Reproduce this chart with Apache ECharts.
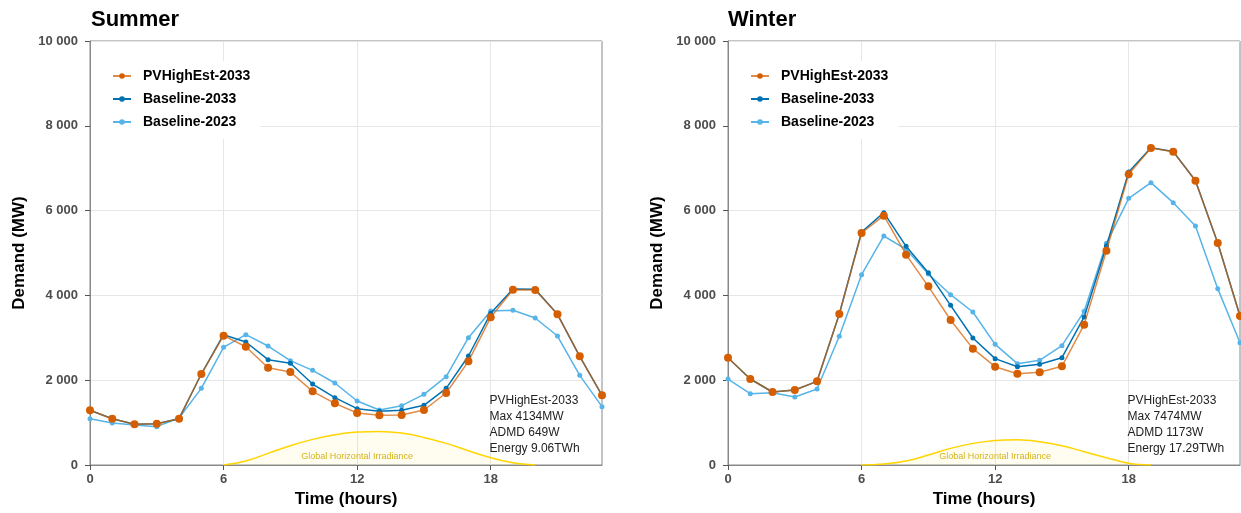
<!DOCTYPE html>
<html>
<head>
<meta charset="utf-8">
<script src="https://cdn.jsdelivr.net/npm/echarts@6/dist/echarts.min.js"></script>
<style>
  html, body { margin: 0; padding: 0; background: #fff; }
  #main { width: 1241px; height: 513px; }
</style>
</head>
<body>
<div id="main"></div>
<script>
// hours of the day
var hours = [0, 1, 2, 3, 4, 5, 6, 7, 8, 9, 10, 11, 12, 13, 14, 15, 16, 17, 18, 19, 20, 21, 22, 23];
var xTicks = [0, 6, 12, 18];
var yTicks = [0, 2000, 4000, 6000, 8000, 10000];

// summer demand (MW)
var summerPV = [1290, 1092, 960, 975, 1092, 2146, 3050, 2790, 2295, 2193, 1737, 1454, 1226, 1171, 1179, 1297, 1698, 2445, 3483, 4134, 4125, 3553, 2563, 1643];
var summerB33 = [1290, 1092, 960, 975, 1092, 2146, 3073, 2901, 2484, 2398, 1910, 1588, 1329, 1266, 1289, 1407, 1808, 2571, 3577, 4150, 4143, 3553, 2563, 1643];
var summerB23 = [1092, 990, 943, 904, 1108, 1808, 2775, 3073, 2806, 2461, 2233, 1934, 1509, 1297, 1400, 1667, 2083, 3003, 3632, 3648, 3467, 3042, 2115, 1376];
var summerGHI = [null, null, null, null, null, null, 0, 94, 275, 455, 604, 714, 776, 792, 753, 651, 510, 337, 173, 55, 0, null, null, null];

// winter demand (MW)
var winterPV = [2531, 2028, 1722, 1769, 1973, 3561, 5472, 5880, 4961, 4214, 3420, 2744, 2319, 2154, 2186, 2327, 3310, 5055, 6856, 7474, 7390, 6705, 5236, 3514];
var winterB33 = [2531, 2028, 1722, 1769, 1973, 3561, 5495, 5951, 5157, 4536, 3766, 2995, 2508, 2319, 2374, 2531, 3491, 5165, 6910, 7480, 7395, 6705, 5236, 3514];
var winterB23 = [2028, 1682, 1706, 1604, 1792, 3035, 4489, 5401, 5086, 4505, 4017, 3608, 2846, 2390, 2469, 2814, 3624, 5228, 6290, 6659, 6187, 5637, 4159, 2885];
var winterGHI = [null, null, null, null, null, null, 0, 24, 94, 235, 392, 510, 580, 596, 549, 455, 314, 173, 39, 0, null, null, null, null];

var summerNote = ['PVHighEst-2033', 'Max 4134MW', 'ADMD 649W', 'Energy 9.06TWh'];
var winterNote = ['PVHighEst-2033', 'Max 7474MW', 'ADMD 1173W', 'Energy 17.29TWh'];

var FONT = 'Liberation Sans, Arial, sans-serif';
var C_PV = '#D55E00', C_B33 = '#0072B2', C_B23 = '#56B4E9';
var GRIDC = '#e6e6e6';

function pairs(arr) {
    return hours.map(function (h, i) { return [h, arr[i]]; });
}
// 10 000 style
function fmt(v) {
    return String(v).replace(/\B(?=(\d{3})+(?!\d))/g, ' ');
}

function xAxisFor(idx) {
    return {
        gridIndex: idx, type: 'value', min: 0, max: 23, interval: 3,
        name: 'Time (hours)', nameLocation: 'middle', nameGap: 24,
        nameTextStyle: { fontFamily: FONT, fontSize: 17, fontWeight: 'bold', color: '#000' },
        axisLine: { show: true, onZero: false, lineStyle: { color: '#888', width: 1 } },
        axisTick: { show: true, length: 5, customValues: xTicks, lineStyle: { color: '#555' } },
        axisLabel: {
            customValues: xTicks, margin: 8,
            fontFamily: FONT, fontSize: 13, fontWeight: 'bold', color: '#4d4d4d'
        },
        splitLine: { show: true, lineStyle: { color: GRIDC, width: 1 } }
    };
}
function yAxisFor(idx) {
    return {
        gridIndex: idx, type: 'value', min: 0, max: 10000, interval: 1000,
        name: 'Demand (MW)', nameLocation: 'middle', nameGap: 62,
        nameTextStyle: { fontFamily: FONT, fontSize: 17, fontWeight: 'bold', color: '#000' },
        axisLine: { show: true, lineStyle: { color: '#888', width: 1 } },
        axisTick: { show: true, length: 5, customValues: yTicks, lineStyle: { color: '#555' } },
        axisLabel: {
            customValues: yTicks, margin: 12, formatter: fmt,
            fontFamily: FONT, fontSize: 13, fontWeight: 'bold', color: '#4d4d4d'
        },
        splitLine: { show: true, lineStyle: { color: GRIDC, width: 1 } }
    };
}

function seriesFor(idx, pv, b33, b23, ghi, note) {
    return [
        {
            name: 'Irradiance', type: 'line', xAxisIndex: idx, yAxisIndex: idx,
            data: pairs(ghi), smooth: 0.4, symbol: 'none', silent: true, z: 1,
            lineStyle: { color: '#FFD500', width: 1.5 },
            areaStyle: { color: 'rgba(255, 225, 80, 0.12)' },
            markPoint: {
                symbol: 'circle', symbolSize: 0, silent: true,
                data: [
                    {
                        coord: [12, 190],
                        label: { show: true, position: 'inside', formatter: 'Global Horizontal Irradiance',
                            fontFamily: FONT, fontSize: 9, color: '#D4B41A' }
                    },
                    {
                        coord: [17.95, 1700],
                        label: { show: true, position: [0, 0], align: 'left', verticalAlign: 'top',
                            formatter: note.join('\n'), lineHeight: 16,
                            fontFamily: FONT, fontSize: 12, color: '#222' }
                    }
                ]
            }
        },
        {
            name: 'Baseline-2023', type: 'line', xAxisIndex: idx, yAxisIndex: idx,
            data: pairs(b23), symbol: 'circle', symbolSize: 5, z: 2,
            itemStyle: { color: C_B23 }, lineStyle: { color: C_B23, width: 1.5 }
        },
        {
            name: 'Baseline-2033', type: 'line', xAxisIndex: idx, yAxisIndex: idx,
            data: pairs(b33), symbol: 'circle', symbolSize: 5, z: 3,
            itemStyle: { color: C_B33 }, lineStyle: { color: C_B33, width: 1.5 }
        },
        {
            name: 'PVHighEst-2033', type: 'line', xAxisIndex: idx, yAxisIndex: idx,
            data: pairs(pv), symbol: 'circle', symbolSize: 8, z: 4,
            itemStyle: { color: C_PV }, lineStyle: { color: C_PV, width: 1.5, opacity: 0.72 }
        }
    ];
}

function legendFor(left) {
    return {
        data: ['PVHighEst-2033', 'Baseline-2033', 'Baseline-2023'],
        orient: 'vertical', left: left, top: 61,
        backgroundColor: '#fff', padding: [8, 10, 10, 21],
        itemWidth: 18, itemHeight: 7, itemGap: 9,
        textStyle: { fontFamily: FONT, fontSize: 14, fontWeight: 'bold', color: '#000', padding: [0, 0, 0, 7] }
    };
}

var myChart = echarts.init(document.getElementById('main'));
var option = {
    backgroundColor: '#fff',
    animation: false,
    title: [
        { text: 'Summer', left: 86, top: 4, textStyle: { fontFamily: FONT, fontSize: 22, fontWeight: 'bold', color: '#000' } },
        { text: 'Winter', left: 723, top: 4, textStyle: { fontFamily: FONT, fontSize: 22, fontWeight: 'bold', color: '#000' } }
    ],
    legend: [legendFor(91), legendFor(729)],
    grid: [
        { left: 90, top: 41, width: 512, height: 424, show: true, borderColor: '#888', borderWidth: 1 },
        { left: 728, top: 41, width: 512, height: 424, show: true, borderColor: '#888', borderWidth: 1 }
    ],
    xAxis: [xAxisFor(0), xAxisFor(1)],
    yAxis: [yAxisFor(0), yAxisFor(1)],
    series: seriesFor(0, summerPV, summerB33, summerB23, summerGHI, summerNote)
        .concat(seriesFor(1, winterPV, winterB33, winterB23, winterGHI, winterNote))
};
myChart.setOption(option);
</script>
</body>
</html>
